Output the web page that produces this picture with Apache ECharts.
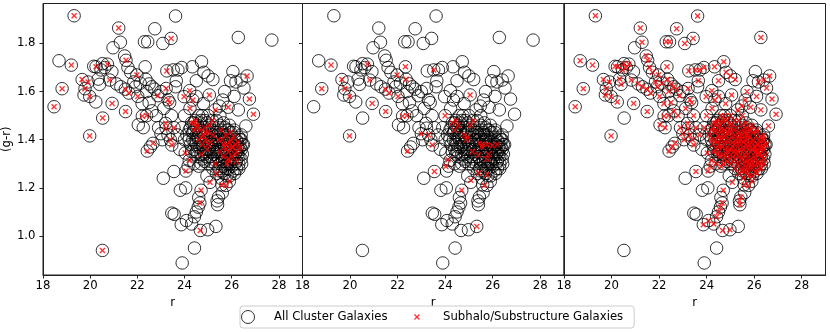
<!DOCTYPE html>
<html>
<head>
<meta charset="utf-8">
<script src="https://cdn.jsdelivr.net/npm/echarts@6/dist/echarts.min.js"></script>
<style>html,body{margin:0;padding:0;background:#fff}#c{width:830px;height:332px}</style>
</head>
<body>
<div id="c"></div>
<script>
// ---- Data ----
const xTicks = [18, 20, 22, 24, 26, 28];
const yTicks = [1.0, 1.2, 1.4, 1.6, 1.8];
const xRange = [18, 29];
const yRange = [0.838, 1.966];

// All cluster galaxies [r, g-r]
const allGalaxies = [
  [18.47,1.537],[18.68,1.728],[18.81,1.612],[19.2,1.71],[19.32,1.915],[19.66,1.65],[19.78,1.612],[19.74,1.586],
  [19.91,1.64],[19.98,1.58],[19.98,1.416],[20.24,1.557],[20.15,1.705],[20.25,1.703],[20.34,1.652],[20.4,1.63],
  [20.46,1.69],[20.52,1.716],[20.52,0.94],[20.53,1.49],[20.62,1.70],[20.73,1.714],[20.83,1.648],[20.92,1.683],
  [20.93,1.551],[20.97,1.782],[21.21,1.864],[21.28,1.805],[21.12,1.632],[21.46,1.748],[21.52,1.73],[21.6,1.70],
  [21.49,1.61],[21.64,1.594],[21.5,1.517],[21.3,1.62],[21.72,1.68],[21.85,1.64],
  [22.3,1.807],[22.44,1.807],[22.74,1.861],[23.08,1.80],[23.43,1.821],[23.62,1.914],[21.98,1.669],[22.33,1.703],
  [22.02,1.58],[21.92,1.62],[22.12,1.635],[22.36,1.651],[22.5,1.632],[22.62,1.62],[22.74,1.61],[22.87,1.583],
  [22.4,1.60],[22.2,1.55],[22.5,1.555],[22.21,1.498],[22.39,1.50],[22.62,1.52],[22.8,1.50],[22.04,1.462],
  [22.25,1.45],[22.66,1.385],[22.42,1.353],[22.55,1.37],[22.9,1.45],[23.0,1.425],[23.25,1.686],[23.52,1.69],
  [23.72,1.69],[23.88,1.70],[23.22,1.613],[23.3,1.566],[23.37,1.554],[23.0,1.60],[23.12,1.53],[23.2,1.468],
  [23.22,1.448],[23.4,1.40],[23.46,1.378],[23.3,1.42],[23.55,1.45],[23.45,1.50],[23.62,1.62],[23.65,1.645],
  [23.1,1.24],[23.55,1.268],[23.82,1.19],[23.46,1.095],[23.56,1.09],[23.86,1.047],[23.9,0.888],[23.05,1.40],
  [24.08,1.064],[24.42,0.95],[24.67,1.023],[24.98,1.026],[25.33,1.04],[24.3,1.05],[24.42,1.08],[24.5,1.10],
  [24.58,1.12],[24.65,1.137],[24.7,1.19],[24.6,1.16],[25.08,1.223],[24.95,1.25],[25.38,1.146],[25.4,1.13],
  [25.44,1.162],[25.58,1.213],[25.76,1.21],[25.9,1.227],[25.6,1.18],[24.05,1.20],[24.03,1.345],[24.06,1.27],
  [24.2,1.314],[24.15,1.29],[23.98,1.579],[24.22,1.604],[24.35,1.565],[24.23,1.53],[24.33,1.703],[24.72,1.724],
  [24.82,1.68],[25.0,1.665],[25.2,1.65],[24.5,1.645],[25.05,1.586],[25.3,1.524],[25.18,1.48],[25.85,1.535],
  [25.62,1.565],[25.48,1.54],[26.05,1.683],[26.4,1.648],[26.52,1.615],[25.95,1.645],[26.18,1.64],[26.28,1.524],
  [26.6,1.457],[26.65,1.665],[26.75,1.569],[26.92,1.506],[26.28,1.825],[27.7,1.814],[24.8,1.55],[24.6,1.50],
  [24.0,1.50],[23.9,1.45],[24.0,1.40],[23.8,1.36],[23.7,1.42],[24.5,1.58],[25.7,1.60],[26.1,1.58],
  [26.4,1.42],[26.5,1.38],[26.42,1.30],[26.3,1.28],[26.12,1.26],[25.92,1.25],
  [24.3,1.47],[24.4,1.44],[24.45,1.48],[24.5,1.42],[24.55,1.46],[24.6,1.40],[24.65,1.44],[24.7,1.48],
  [24.75,1.38],[24.8,1.42],[24.85,1.45],[24.9,1.40],[24.95,1.36],[25.0,1.43],[25.05,1.46],[25.1,1.39],
  [25.15,1.35],[25.2,1.42],[25.25,1.45],[25.3,1.38],[24.35,1.40],[24.4,1.36],[24.55,1.33],[24.7,1.34],
  [24.85,1.31],[25.0,1.30],[24.6,1.29],[24.9,1.35],[25.1,1.33],[24.5,1.38],[24.75,1.50],[25.0,1.50],
  [24.2,1.44],[24.25,1.38],[24.1,1.42],
  [25.4,1.42],[25.45,1.38],[25.5,1.35],[25.55,1.44],[25.6,1.40],[25.65,1.33],[25.7,1.37],[25.75,1.42],
  [25.8,1.30],[25.85,1.35],[25.9,1.39],[25.95,1.43],[26.0,1.33],[26.05,1.37],[26.1,1.41],[26.15,1.30],
  [26.2,1.35],[26.25,1.39],[26.3,1.33],[26.35,1.37],[25.5,1.30],[25.6,1.27],[25.75,1.28],[25.9,1.31],
  [26.0,1.29],[26.2,1.31],[25.45,1.32],[25.7,1.45],[25.9,1.46],[26.1,1.44],[25.3,1.30],[25.35,1.26],
  [25.2,1.28],[25.55,1.24],[25.8,1.25],[26.45,1.34],[26.4,1.40],[25.65,1.47],[25.35,1.48],[25.5,1.50],
  [24.25,1.45],[24.35,1.43],[24.45,1.39],[24.55,1.41],[24.65,1.47],[24.75,1.44],[24.85,1.48],[24.95,1.44],
  [25.05,1.41],[25.15,1.44],[25.25,1.40],[25.35,1.43],[24.5,1.35],[24.65,1.37],[24.8,1.36],[24.95,1.33],
  [25.1,1.31],[25.25,1.34],[25.4,1.36],[25.55,1.39],[25.6,1.34],[25.7,1.31],[25.8,1.38],[25.85,1.44],
  [25.95,1.36],[26.05,1.32],[26.15,1.38],[26.25,1.34],[26.3,1.41],[26.1,1.35],[25.75,1.34],[25.65,1.42],
  [25.5,1.46],[24.4,1.30],[24.7,1.30],[25.0,1.38],[24.3,1.35],[24.2,1.40],[26.4,1.36],[25.2,1.36],
  [25.45,1.40],[25.5,1.42],[25.55,1.36],[25.6,1.31],[25.65,1.38],[25.7,1.40],[25.75,1.36],[25.8,1.41],
  [25.85,1.32],[25.9,1.36],[25.95,1.40],[26.0,1.37],[26.05,1.35],[26.1,1.38],[26.15,1.34],[26.2,1.40],
  [26.25,1.37],[26.3,1.36],[26.35,1.40],[26.2,1.28],[26.05,1.27],[25.85,1.28],[25.65,1.29],[25.45,1.28],
  [25.4,1.33],[25.35,1.40],[25.3,1.35],[24.9,1.43],[24.95,1.47],[24.8,1.39],[24.7,1.41],[24.6,1.43],
  [24.5,1.45],[24.4,1.47],[24.45,1.34],[24.55,1.37],[24.75,1.32],[24.85,1.34],[25.05,1.36],[25.15,1.38],
  [25.2,1.32],[26.4,1.32],[26.3,1.30],[26.45,1.38],[25.95,1.30],[25.7,1.26],[25.5,1.27],[26.1,1.43],
  [25.8,1.44],[25.6,1.43]
];

// Galaxies not drawn in the third panel
const panel3Missing = [[27.7,1.814]];

// Subhalo / substructure galaxies, panel 1
const sub1 = [
  [19.32,1.915],[21.21,1.864],[23.43,1.821],[19.2,1.71],[19.66,1.65],[19.91,1.64],[19.78,1.612],[19.98,1.58],
  [18.81,1.612],[18.47,1.537],[19.98,1.416],[20.52,0.94],[20.53,1.49],[20.93,1.551],[20.25,1.703],[20.73,1.714],
  [20.83,1.648],[21.52,1.73],[21.49,1.61],[21.64,1.594],[21.5,1.517],[21.98,1.669],[22.02,1.58],[22.87,1.583],
  [22.21,1.498],[22.39,1.50],[22.66,1.385],[22.42,1.353],[23.25,1.686],[23.22,1.613],[23.3,1.566],[23.37,1.554],
  [23.2,1.468],[23.22,1.448],[23.4,1.40],[23.46,1.378],[23.55,1.45],
  [24.67,1.023],[24.65,1.137],[24.7,1.19],[25.08,1.223],[25.58,1.213],[25.76,1.21],[25.9,1.227],[24.03,1.345],
  [24.06,1.27],[24.2,1.314],[23.98,1.579],[24.22,1.604],[24.35,1.565],[24.23,1.53],[25.05,1.586],[25.3,1.524],
  [25.18,1.48],[25.85,1.535],[26.65,1.665],[26.75,1.569],[26.92,1.506],
  [24.3,1.47],[24.45,1.48],[24.4,1.44],[24.55,1.46],[24.6,1.40],[24.8,1.42],[24.9,1.40],[25.0,1.43],
  [25.05,1.46],[24.95,1.36],[25.1,1.39],[24.7,1.34],[24.75,1.38],[25.2,1.42],[25.55,1.44],[25.6,1.40],
  [25.7,1.37],[25.75,1.42],[25.85,1.35],[25.9,1.39],[25.95,1.43],[26.0,1.33],[26.05,1.37],[26.1,1.41],
  [26.2,1.35],[26.25,1.39],[25.8,1.30],[25.65,1.33],[25.5,1.35],[25.9,1.31],[26.2,1.31],[25.3,1.30],
  [26.35,1.37],[25.35,1.26],[24.65,1.44],[24.85,1.45],[25.0,1.38],[25.8,1.38],[26.15,1.38],[25.95,1.36],
  [25.45,1.40],[25.75,1.36],[25.85,1.32],[26.0,1.37],[26.15,1.34],[25.65,1.38],[24.9,1.43],[24.7,1.41],
  [24.5,1.45],[24.4,1.47],[26.3,1.36],[25.95,1.40]
];

// Subhalo / substructure galaxies, panel 2
const sub2 = [
  [19.2,1.71],[18.81,1.612],[19.66,1.65],[19.78,1.612],[19.98,1.58],[19.98,1.416],[20.73,1.714],[20.83,1.648],
  [20.93,1.551],[21.49,1.61],[21.64,1.594],[21.5,1.517],[21.98,1.669],[22.33,1.703],[22.36,1.651],[22.02,1.58],
  [22.21,1.498],[22.39,1.50],[22.42,1.353],[23.52,1.69],[23.0,1.425],[23.3,1.42],[23.46,1.378],
  [24.0,1.50],[24.3,1.47],[24.45,1.48],[24.4,1.44],[24.55,1.46],[25.05,1.46],[25.18,1.48],[24.9,1.40],
  [24.8,1.42],[25.05,1.586],[25.15,1.35],[25.44,1.385],[25.54,1.37],[25.4,1.337],[25.59,1.38],[25.77,1.38],
  [25.98,1.375],[26.19,1.38],[25.82,1.34],[25.75,1.32],[24.12,1.317],[24.03,1.289],[23.55,1.268],[25.4,1.262],
  [25.76,1.255],[25.08,1.232],[24.7,1.19],[25.65,1.21],[25.33,1.04],[24.95,1.41]
];

// Galaxies without a substructure mark in panel 3 (all others are marked)
const noSub3 = [
  [20.52,0.94],[20.53,1.49],[20.97,1.782],[23.1,1.24],[23.82,1.19],[24.05,1.20],[23.46,1.095],[23.56,1.09],
  [23.9,0.888],[24.42,0.95],[25.33,1.04],[26.05,1.683],[27.7,1.814],[24.6,1.16],[23.62,1.62],[25.95,1.645],
  [24.95,1.25],[20.92,1.683],[23.0,1.60],[24.0,1.40],[23.8,1.36],[25.6,1.18]
];

// ---- Build ----
const same = (a, b) => a[0] === b[0] && a[1] === b[1];
const circles3 = allGalaxies.filter(p => !panel3Missing.some(q => same(p, q)));
const sub3 = allGalaxies.filter(p => !noSub3.some(q => same(p, q)));

const FONT = 'DejaVu Sans';
const FS = 11.7;
const AX = '#222';
const crossPath = 'path://M0,1.6L1.6,0L5,3.4L8.4,0L10,1.6L6.6,5L10,8.4L8.4,10L5,6.6L1.6,10L0,8.4L3.4,5Z';
const crossLegend = 'path://M-6,-6M16,16M0,1.6L1.6,0L5,3.4L8.4,0L10,1.6L6.6,5L10,8.4L8.4,10L5,6.6L1.6,10L0,8.4L3.4,5Z';

const lefts = [41, 302.5, 564];
const W = 261.5;
const grids = lefts.map(l => ({
  left: l, top: 3.5, width: W, height: 271.5,
  show: true, borderColor: AX, borderWidth: 1, backgroundColor: 'transparent', containLabel: false
}));

const xAxes = lefts.map((l, i) => ({
  type: 'value', gridIndex: i, min: xRange[0], max: xRange[1],
  name: 'r', nameLocation: 'middle', nameGap: 16,
  nameTextStyle: { fontFamily: FONT, fontSize: FS, color: '#000' },
  axisLine: { show: true, onZero: false, lineStyle: { color: AX, width: 1 } },
  axisTick: { show: true, inside: false, length: 3.5, customValues: xTicks, lineStyle: { color: AX } },
  axisLabel: { show: true, customValues: xTicks, margin: 5, fontFamily: FONT, fontSize: FS, color: '#000',
               formatter: v => String(v) },
  splitLine: { show: false }
}));

const yAxes = lefts.map((l, i) => ({
  type: 'value', gridIndex: i, min: yRange[0], max: yRange[1],
  name: i === 0 ? '(g-r)' : '', nameLocation: 'middle', nameGap: 26, nameRotate: 90,
  nameTextStyle: { fontFamily: FONT, fontSize: FS, color: '#000' },
  axisLine: { show: true, onZero: false, lineStyle: { color: AX, width: 1 } },
  axisTick: { show: true, inside: false, length: 3.5, customValues: yTicks, lineStyle: { color: AX } },
  axisLabel: { show: i === 0, customValues: yTicks, margin: 7.5, fontFamily: FONT, fontSize: FS, color: '#000',
               formatter: v => Number(v).toFixed(1) },
  splitLine: { show: false }
}));

const circleStyle = { color: 'rgba(0,0,0,0)', borderColor: '#000', borderWidth: 1 };
const crossStyle = { color: '#ff0000' };

const circleSets = [allGalaxies, allGalaxies, circles3];
const subSets = [sub1, sub2, sub3];
const series = [];
for (let i = 0; i < 3; i++) {
  series.push({
    name: 'All Cluster Galaxies', type: 'scatter', xAxisIndex: i, yAxisIndex: i,
    data: circleSets[i], symbol: 'circle', symbolSize: 12.5, itemStyle: circleStyle,
    emphasis: { disabled: true }, silent: true, z: 2
  });
}
for (let i = 0; i < 3; i++) {
  series.push({
    name: 'Subhalo/Substructure Galaxies', type: 'scatter', xAxisIndex: i, yAxisIndex: i,
    data: subSets[i], symbol: crossPath, symbolSize: 6, itemStyle: crossStyle,
    emphasis: { disabled: true }, silent: true, z: 3
  });
}

const chart = echarts.init(document.getElementById('c'), null, { renderer: 'canvas' });
chart.setOption({
  animation: false,
  backgroundColor: '#fff',
  grid: grids, xAxis: xAxes, yAxis: yAxes,
  legend: {
    left: 240, top: 306, orient: 'horizontal',
    itemWidth: 28, itemHeight: 13, itemGap: 23,
    padding: [4, 11, 4, 1],
    borderColor: '#cccccc', borderWidth: 1, borderRadius: 3, backgroundColor: '#fff',
    textStyle: { fontFamily: FONT, fontSize: FS, color: '#000', padding: [0, 0, 0, 7] },
    selectedMode: false,
    data: [
      { name: 'All Cluster Galaxies', icon: 'circle', itemStyle: { color: 'rgba(0,0,0,0)', borderColor: '#000', borderWidth: 1 } },
      { name: 'Subhalo/Substructure Galaxies', icon: crossLegend, itemStyle: { color: '#ff0000', borderWidth: 0 } }
    ]
  },
  series: series
});
</script>
</body>
</html>
